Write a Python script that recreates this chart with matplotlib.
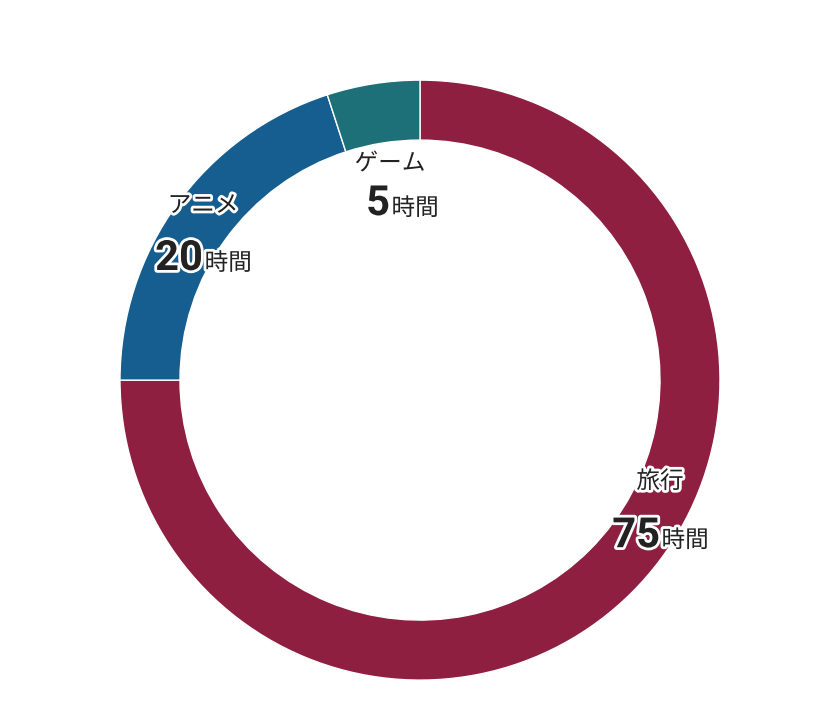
import matplotlib
matplotlib.use("Agg")
import matplotlib.pyplot as plt
import matplotlib.patheffects as pe

plt.rcParams['font.family'] = ['Noto Sans CJK JP', 'DejaVu Sans']

categories = ["旅行", "アニメ", "ゲーム"]
hours = [75, 20, 5]
colors = ["#8E1F40", "#155E8F", "#1E7078"]

# label anchor points (data units, radius 1 = outer ring)
label_split_x = [0.8, -0.723, -0.1]
label_cat_y = [-0.36, 0.56, 0.70]
label_num_y = [-0.557, 0.367, 0.55]

fig = plt.figure(figsize=(8.4, 7.2), dpi=100)
ax = fig.add_axes([0, 0, 1, 1])
ax.pie(hours, colors=colors, startangle=90, counterclock=False, radius=1.0,
       wedgeprops=dict(width=0.2, edgecolor="white", linewidth=1))
ax.set_xlim(-1.4, 1.4)
ax.set_ylim(-1.133, 1.267)
ax.set_aspect("equal")
ax.axis("off")

stroke = [pe.withStroke(linewidth=4, foreground="white")]
for cat, h, sx, cy, ny in zip(categories, hours, label_split_x, label_cat_y, label_num_y):
    ax.text(sx, cy, cat, fontsize=17, color="#222222", ha="center", va="baseline",
            path_effects=stroke)
    ax.text(sx, ny, str(h), fontsize=30, fontweight="bold", color="#222222",
            ha="right", va="baseline", family=["Roboto", "DejaVu Sans"], path_effects=stroke)
    ax.text(sx + 0.005, ny, "時間", fontsize=17, color="#222222", ha="left",
            va="baseline", path_effects=stroke)

fig.savefig("out.png", dpi=100)
